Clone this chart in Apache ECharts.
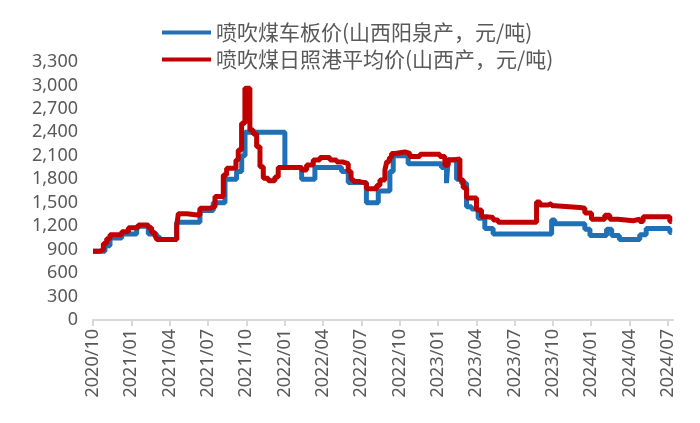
<!DOCTYPE html>
<html>
<head>
<meta charset="utf-8">
<script src="https://cdn.jsdelivr.net/npm/echarts@6/dist/echarts.min.js"></script>
<style>
html,body{margin:0;padding:0;background:#fff;}
#chart{width:700px;height:423px;}
</style>
</head>
<body>
<div id="chart"></div>
<script>
// x positions are months elapsed since 2020/10/01
const xTickLabels = ['2020/10','2021/01','2021/04','2021/07','2021/10','2022/01','2022/04','2022/07','2022/10','2023/01','2023/04','2023/07','2023/10','2024/01','2024/04','2024/07'];

const seriesNames = ['喷吹煤车板价(山西阳泉产，元/吨)', '喷吹煤日照港平均价(山西产，元/吨)'];

const blueMonths = [0, 0.94, 1.33, 2.25, 3.42, 4.33, 4.98, 5.24, 6.55, 8.37, 9.41, 10.33, 11.24, 11.64, 11.9, 15.02, 16.33, 17.37, 19.46, 19.98, 21.4, 22.33, 23.24, 23.5, 24.67, 27.28, 27.67, 27.8, 28.46, 28.85, 29.24, 29.63, 30.15, 30.67, 31.32, 35.9, 36.15, 38.5, 38.9, 40.2, 40.6, 41.2, 42.8, 43.3, 45.15, 45.3];
const blueValues = [880, 950, 1050, 1100, 1200, 1100, 1060, 1030, 1250, 1400, 1500, 1800, 1900, 2100, 2400, 1950, 1800, 1950, 1900, 1760, 1500, 1650, 1900, 2100, 2000, 1950, 1750, 2050, 1800, 1750, 1450, 1420, 1300, 1170, 1100, 1280, 1230, 1160, 1080, 1160, 1080, 1030, 1090, 1170, 1120, 1120];

const redMonths = [0, 0.55, 0.81, 1.07, 1.33, 2.25, 2.77, 3.55, 4.33, 4.59, 4.85, 5.0, 6.55, 6.68, 7.33, 8.37, 9.2, 9.55, 10.2, 10.46, 11.19, 11.37, 11.63, 11.89, 12.28, 12.54, 12.81, 13.07, 13.33, 13.72, 14.24, 14.5, 16.33, 16.72, 17.24, 17.76, 18.54, 19.07, 19.59, 19.98, 20.2, 20.37, 20.89, 21.4, 22.2, 22.46, 22.85, 23.0, 23.2, 23.37, 23.63, 24.41, 24.8, 25.59, 27.15, 27.54, 27.8, 28.19, 28.72, 28.98, 29.24, 30.02, 30.41, 30.8, 31.32, 31.71, 34.72, 34.98, 35.63, 35.9, 36.15, 38.1, 38.5, 39.02, 40.06, 40.45, 41.1, 42.28, 42.8, 43.06, 45.15, 45.3];
const redValues = [880, 900, 980, 1040, 1090, 1130, 1180, 1215, 1180, 1120, 1080, 1030, 1200, 1360, 1340, 1430, 1450, 1580, 1855, 1940, 2046, 2174, 2516, 2963, 2430, 2380, 2216, 1960, 1812, 1780, 1830, 1950, 1920, 1982, 2046, 2080, 2046, 2020, 2000, 1900, 1800, 1770, 1750, 1680, 1720, 1790, 1920, 2025, 2080, 2130, 2150, 2130, 2090, 2120, 2090, 1980, 2046, 2060, 1790, 1690, 1560, 1407, 1320, 1310, 1280, 1250, 1510, 1470, 1490, 1460, 1440, 1430, 1370, 1290, 1340, 1290, 1270, 1290, 1260, 1320, 1260, 1260];

const tickMonths = xTickLabels.map((_, i) => i * 3);
const pair = (xs, ys) => xs.map((x, i) => [x, ys[i]]);

const FONT = '"Noto Sans", "Noto Sans CJK SC", sans-serif';
const chart = echarts.init(document.getElementById('chart'), null, {renderer: 'canvas'});
chart.setOption({
  animation: false,
  backgroundColor: '#ffffff',
  grid: {left: 93, right: 27, top: 62, bottom: 103, containLabel: false},
  legend: {
    data: seriesNames,
    orient: 'vertical',
    left: 157,
    top: 17,
    icon: 'rect',
    itemWidth: 49,
    itemHeight: 4,
    itemGap: 6,
    textStyle: {fontSize: 21, color: '#595959', fontFamily: '"Noto Sans CJK SC", sans-serif', lineHeight: 21}
  },
  xAxis: {
    type: 'value',
    min: 0,
    max: 45.4,
    axisLine: {show: true, lineStyle: {color: '#d9d9d9', width: 2}},
    axisTick: {show: true, customValues: tickMonths, length: 6, lineStyle: {color: '#d9d9d9', width: 2}},
    splitLine: {show: false},
    axisLabel: {
      customValues: tickMonths,
      rotate: 90,
      margin: 9,
      fontSize: 18,
      color: '#595959',
      fontFamily: FONT,
      formatter: v => xTickLabels[Math.round(v / 3)] || ''
    }
  },
  yAxis: {
    type: 'value',
    min: 0,
    max: 3300,
    interval: 300,
    axisLine: {show: false},
    axisTick: {show: false},
    splitLine: {show: false},
    axisLabel: {
      fontSize: 18,
      color: '#595959',
      fontFamily: FONT,
      margin: 15,
      formatter: v => v.toLocaleString('en-US')
    }
  },
  series: [
    {
      name: seriesNames[0],
      type: 'line',
      step: 'end',
      showSymbol: false,
      color: '#1f70b5',
      lineStyle: {width: 5, color: '#1f70b5'},
      data: pair(blueMonths, blueValues),
      z: 2
    },
    {
      name: seriesNames[1],
      type: 'line',
      step: 'end',
      showSymbol: false,
      color: '#c00000',
      lineStyle: {width: 5, color: '#c00000'},
      data: pair(redMonths, redValues),
      z: 3
    }
  ]
});
</script>
</body>
</html>
